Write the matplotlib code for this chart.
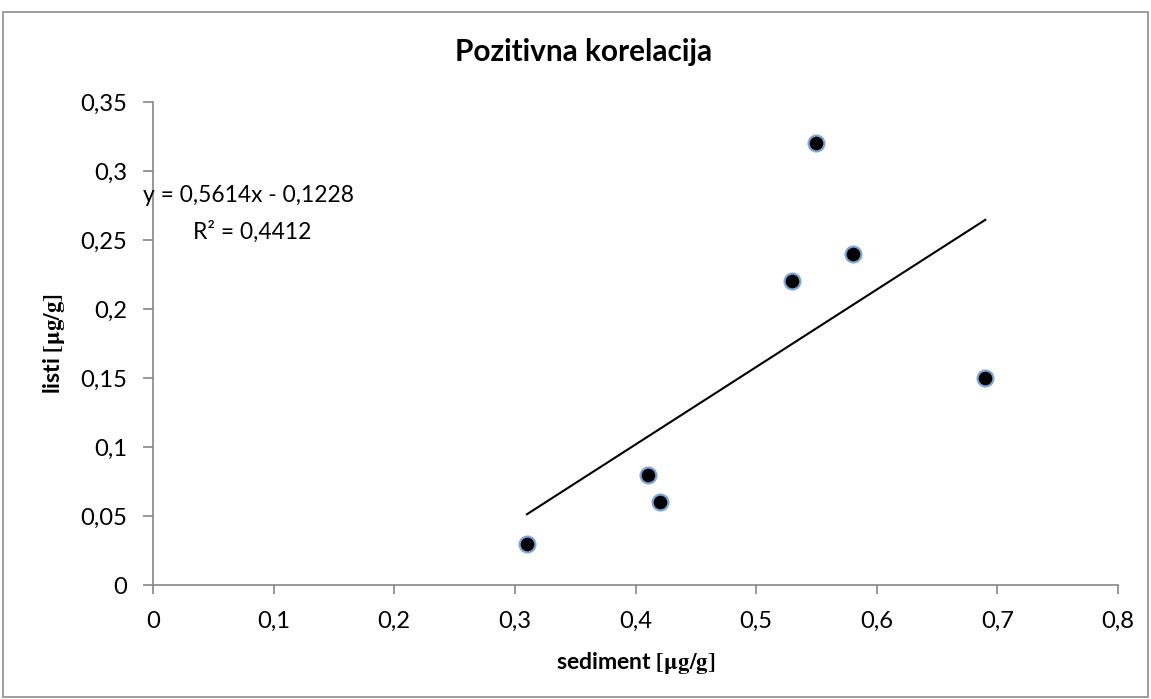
import numpy as np
import matplotlib.pyplot as plt
from matplotlib.patches import Rectangle

# data to plot
sediment = [0.31, 0.41, 0.42, 0.53, 0.55, 0.58, 0.69]
listi = [0.03, 0.08, 0.06, 0.22, 0.32, 0.24, 0.15]
x_ticks = [0, 0.1, 0.2, 0.3, 0.4, 0.5, 0.6, 0.7, 0.8]
y_ticks = [0, 0.05, 0.1, 0.15, 0.2, 0.25, 0.3, 0.35]

plt.rcParams['font.family'] = ['Lato', 'DejaVu Sans']
plt.rcParams['mathtext.fontset'] = 'stix'


def comma(v, fmt='%g'):
    return (fmt % v).replace('.', ',')


def fit(t, target_px):
    # scale font so the text is about as wide as in the reference
    fig.canvas.draw()
    w = t.get_window_extent().width
    t.set_fontsize(t.get_fontsize() * target_px / w)


fig = plt.figure(figsize=(11.51, 6.99), dpi=100)
ax = fig.add_axes([153 / 1151, 1 - 585 / 699, (1118 - 153) / 1151, (585 - 102) / 699])

# outer chart frame
fig.patches.append(Rectangle((3 / 1151, 2 / 699), 1145 / 1151, 685 / 699,
                             transform=fig.transFigure, fill=False,
                             edgecolor='#8c8c8c', linewidth=1.2))

# linear trend line
k, n = np.polyfit(sediment, listi, 1)
r2 = np.corrcoef(sediment, listi)[0, 1] ** 2
xs = np.array([min(sediment), max(sediment)])
ax.plot(xs, k * xs + n, color='black', linewidth=1.5, zorder=2)

ax.scatter(sediment, listi, s=130, color='black', edgecolor='#7ea6d8',
           linewidth=1.6, zorder=3)

ax.set_xlim(0, 0.8)
ax.set_ylim(0, 0.35)
ax.set_xticks(x_ticks)
ax.set_yticks(y_ticks)
ax.set_xticklabels([comma(v) for v in x_ticks])
ax.set_yticklabels([comma(v) for v in y_ticks])
ax.tick_params(axis='x', direction='out', length=6.5, width=1.2, color='#868686', pad=12)
ax.tick_params(axis='y', direction='out', length=7, width=1.2, color='#868686', pad=11.5)

for s in ['top', 'right']:
    ax.spines[s].set_visible(False)
for s in ['left', 'bottom']:
    ax.spines[s].set_color('#868686')
    ax.spines[s].set_linewidth(1.2)

xl = ax.set_xlabel(r'sediment $\mathbf{[\mu g/g]}$', fontweight='bold', labelpad=13)
yl = ax.set_ylabel(r'listi $\mathbf{[\mu g/g]}$', fontweight='bold', labelpad=10)
title = fig.text(584 / 1151, 1 - 52 / 699, 'Pozitivna korelacija', fontweight='bold',
                 ha='center', va='center')

eq1 = ax.text(0.0788, 0.2826, 'y = %s - %s' % (comma(k, '%.4fx'), comma(-n, '%.4f')),
              ha='center', va='center')
eq2 = ax.text(0.082, 0.2558, 'R² = ' + comma(r2, '%.4f'), ha='center', va='center')

ref_tick = ax.get_xticklabels()[2]
fit(ref_tick, 33)
for lab in ax.get_xticklabels() + ax.get_yticklabels():
    lab.set_fontsize(ref_tick.get_fontsize())

# size the axis labels from the width of the word "sediment"
probe = fig.text(0, 0, 'sediment', fontweight='bold')
fit(probe, 95)
xl.set_fontsize(probe.get_fontsize())
yl.set_fontsize(probe.get_fontsize())
probe.remove()

fit(title, 257)
fit(eq1, 210)
eq2.set_fontsize(eq1.get_fontsize())

fig.savefig('out.png', dpi=100)
